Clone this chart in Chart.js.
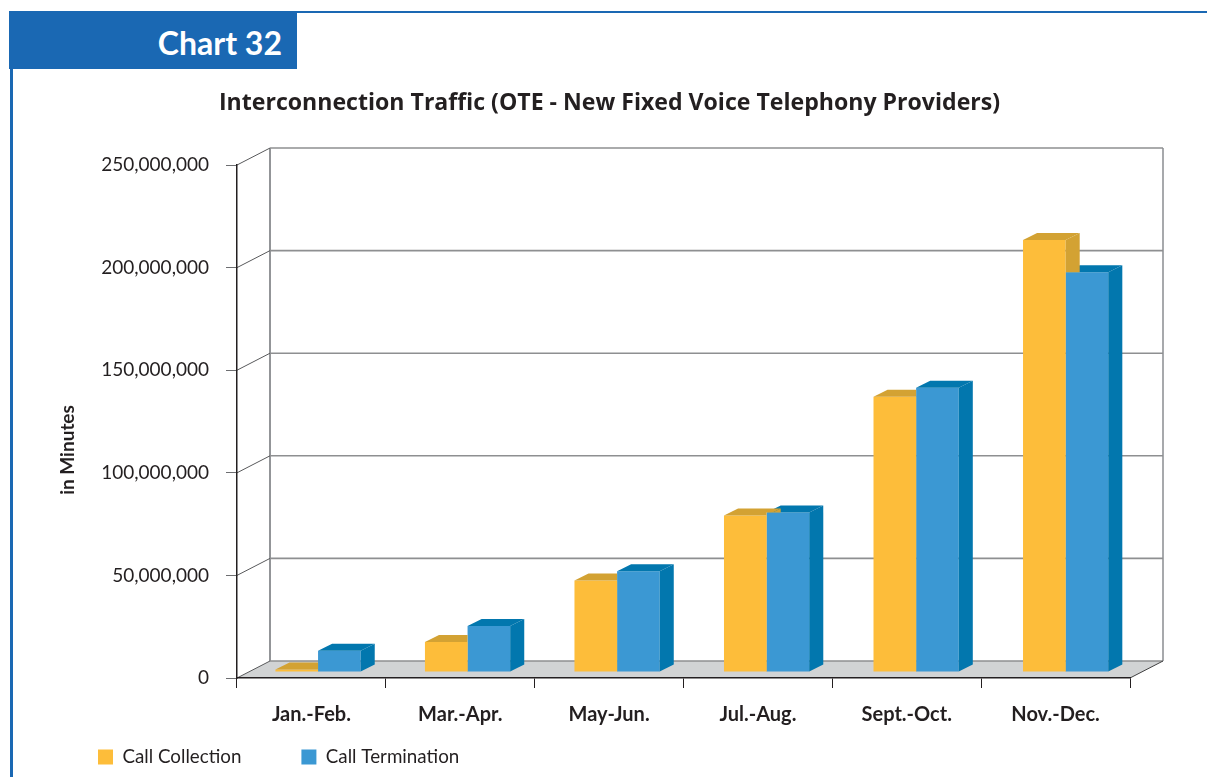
<!DOCTYPE html>
<html>
<head>
<meta charset="utf-8">
<script src="https://cdn.jsdelivr.net/npm/chart.js@4.4.1/dist/chart.umd.min.js"></script>
<style>
  html, body { margin: 0; padding: 0; background: #ffffff; width: 1207px; height: 777px; overflow: hidden; }
  #wrap { position: relative; width: 1207px; height: 777px; }
  #c { position: absolute; left: 0; top: 0; }
  .topline { position: absolute; left: 9px; top: 11px; width: 1198px; height: 2px; background: #1a68b3; }
  .leftline { position: absolute; left: 10px; top: 12px; width: 2.5px; height: 765px; background: #1a68b3; }
  .badge { position: absolute; left: 9px; top: 13px; width: 288px; height: 56px; background: #1a68b3;
           color: #ffffff; font-family: Lato, sans-serif; font-weight: bold; font-size: 32px;
           line-height: 59px; text-align: right; box-sizing: border-box; padding-right: 15px; }
</style>
</head>
<body>
<div id="wrap">
  <canvas id="c" width="1207" height="777"></canvas>
  <div class="topline"></div>
  <div class="leftline"></div>
  <div class="badge">Chart 32</div>
</div>
<script>
// ---- data ----
const categories = ['Jan.-Feb.', 'Mar.-Apr.', 'May-Jun.', 'Jul.-Aug.', 'Sept.-Oct.', 'Nov.-Dec.'];
const seriesNames = ['Call Collection', 'Call Termination'];
const callCollection = [1200000, 14600000, 44600000, 76300000, 134100000, 210500000];
const callTermination = [10400000, 22400000, 49100000, 77700000, 138500000, 194800000];
const yTickValues = [0, 50000000, 100000000, 150000000, 200000000, 250000000];
const chartTitle = 'Interconnection Traffic (OTE - New Fixed Voice Telephony Providers)';
const yAxisTitle = 'in Minutes';

// ---- styling ----
const FONT = 'Lato, "Open Sans", sans-serif';
const TITLE_FONT = '"Open Sans", Lato, sans-serif';
const TEXT = '#231f20';
const frontColors = ['#fdbd3a', '#3b98d3'];
const faceColors = ['#d3a233', '#0277ae'];
const WALL_DX = 33, WALL_DY = 17;
const BAR_DX = 14, BAR_DY = 7;
const PLANE_SHIFT_X = 5.2, PLANE_SCALE_X = 1.0046, PLANE_SHIFT_Y = -6;
const LEGEND_PAD = 60;

function seg(ctx, x1, y1, x2, y2) { ctx.beginPath(); ctx.moveTo(x1, y1); ctx.lineTo(x2, y2); ctx.stroke(); }
function poly(ctx, pts) { ctx.beginPath(); ctx.moveTo(pts[0][0], pts[0][1]); for (let i = 1; i < pts.length; i++) ctx.lineTo(pts[i][0], pts[i][1]); ctx.closePath(); ctx.fill(); }

const box3d = {
  id: 'box3d',
  afterLayout(chart) {
    if (chart.legend) { chart.legend.left = 98 - LEGEND_PAD; chart.legend.top = 747.5 - LEGEND_PAD; }
    if (chart.titleBlock) { chart.titleBlock.left = 12; chart.titleBlock.right = 1207; }
  },
  beforeDraw(chart) {
    const { ctx, chartArea: a, scales: { y } } = chart;
    const L = a.left, R = a.right, B = a.bottom;
    ctx.save();
    // floor
    ctx.fillStyle = '#d1d3d4';
    poly(ctx, [[L, B], [R, B], [R + WALL_DX, B - WALL_DY], [L + WALL_DX, B - WALL_DY]]);
    const yTop = y.getPixelForValue(y.max) - WALL_DY, yBot = y.getPixelForValue(y.min) - WALL_DY;
    // back wall verticals
    ctx.lineWidth = 2;
    ctx.strokeStyle = '#939598';
    seg(ctx, L + WALL_DX, yTop, L + WALL_DX, yBot);
    ctx.strokeStyle = '#a7a9ac';
    seg(ctx, R + WALL_DX, yTop, R + WALL_DX, yBot);
    // back wall gridlines
    ctx.strokeStyle = '#8e8f91';
    ctx.lineWidth = 1.6;
    y.ticks.forEach(t => {
      const py = y.getPixelForValue(t.value) - WALL_DY;
      seg(ctx, L + WALL_DX, py, R + WALL_DX, py);
    });
    // left wall diagonals
    ctx.strokeStyle = '#58595b';
    ctx.lineWidth = 1;
    y.ticks.forEach(t => {
      const py = y.getPixelForValue(t.value);
      seg(ctx, L, py, L + WALL_DX, py - WALL_DY);
    });
    // floor right edge
    ctx.strokeStyle = '#404041';
    seg(ctx, R, B, R + WALL_DX, B - WALL_DY);
    ctx.restore();
  },
  beforeDatasetDraw(chart) {
    const ctx = chart.ctx;
    ctx.save();
    ctx.translate(PLANE_SHIFT_X, PLANE_SHIFT_Y);
    ctx.scale(PLANE_SCALE_X, 1);
  },
  afterDatasetDraw(chart, args) {
    const ctx = chart.ctx;
    const fc = faceColors[args.index];
    // hide the parts that sit behind the front faces of the series standing in front
    ctx.save();
    ctx.beginPath();
    ctx.rect(-5000, -5000, 12000, 12000);
    chart.data.datasets.forEach((ds, j) => {
      if (j <= args.index) return;
      chart.getDatasetMeta(j).data.forEach(b => {
        const p = b.getProps(['x', 'y', 'base', 'width'], true);
        ctx.rect(p.x - p.width / 2, p.y, p.width, p.base - p.y);
      });
    });
    ctx.clip('evenodd');
    args.meta.data.forEach(bar => {
      const { x, y, base, width } = bar.getProps(['x', 'y', 'base', 'width'], true);
      const l = x - width / 2, r = x + width / 2;
      ctx.fillStyle = fc;
      poly(ctx, [[l, y], [l + BAR_DX, y - BAR_DY], [r + BAR_DX, y - BAR_DY], [r, y]]);
      poly(ctx, [[r, y], [r + BAR_DX, y - BAR_DY], [r + BAR_DX, base - BAR_DY], [r, base]]);
    });
    ctx.restore();
    ctx.restore();
  },
  afterDraw(chart) {
    const ctx = chart.ctx;
    ctx.save();
    ctx.translate(68, 450);
    ctx.rotate(-Math.PI / 2);
    ctx.font = 'bold 19px ' + FONT;
    ctx.fillStyle = TEXT;
    ctx.textAlign = 'center';
    ctx.textBaseline = 'middle';
    ctx.fillText(yAxisTitle, 0, 0);
    ctx.restore();
  }
};

new Chart(document.getElementById('c'), {
  type: 'bar',
  data: {
    labels: categories,
    datasets: [
      { label: seriesNames[0], data: callCollection, backgroundColor: frontColors[0], borderWidth: 0, clip: false },
      { label: seriesNames[1], data: callTermination, backgroundColor: frontColors[1], borderWidth: 0, clip: false }
    ]
  },
  options: {
    responsive: false,
    animation: false,
    devicePixelRatio: 1,
    layout: { padding: { left: 12, right: 77, top: 0, bottom: 0 } },
    datasets: { bar: { categoryPercentage: 0.57, barPercentage: 1.0 } },
    plugins: {
      tooltip: { enabled: false },
      title: {
        display: true, text: chartTitle, color: TEXT,
        font: { family: TITLE_FONT, size: 23.1, weight: 'bold', lineHeight: 1.2 },
        padding: { top: 89.1, bottom: 48.2 }
      },
      legend: {
        position: 'bottom', align: 'start', maxHeight: 30,
        labels: { boxWidth: 15, boxHeight: 15, padding: LEGEND_PAD, color: TEXT, font: { family: FONT, size: 18.8 } }
      }
    },
    scales: {
      x: {
        afterFit(s) { s.height = 69; },
        grid: { display: true, drawOnChartArea: false, drawTicks: true, tickLength: 10, color: '#231f20', lineWidth: 1 },
        border: { display: true, color: '#231f20', width: 1.5 },
        ticks: { color: TEXT, padding: 15, font: { family: FONT, size: 20, weight: 'bold' }, maxRotation: 0 }
      },
      y: {
        min: 0, max: 250000000,
        afterFit(s) { s.width = 225; },
        afterBuildTicks(s) { s.ticks = yTickValues.map(v => ({ value: v })); },
        grid: { display: true, drawOnChartArea: false, drawTicks: true, tickLength: 11, color: '#6d6e71', lineWidth: 1 },
        border: { display: true, color: '#231f20', width: 1.5 },
        ticks: { color: TEXT, padding: 17, font: { family: FONT, size: 19 },
                 callback: v => Number(v).toLocaleString('en-US') }
      }
    }
  },
  plugins: [box3d]
});
</script>
</body>
</html>
